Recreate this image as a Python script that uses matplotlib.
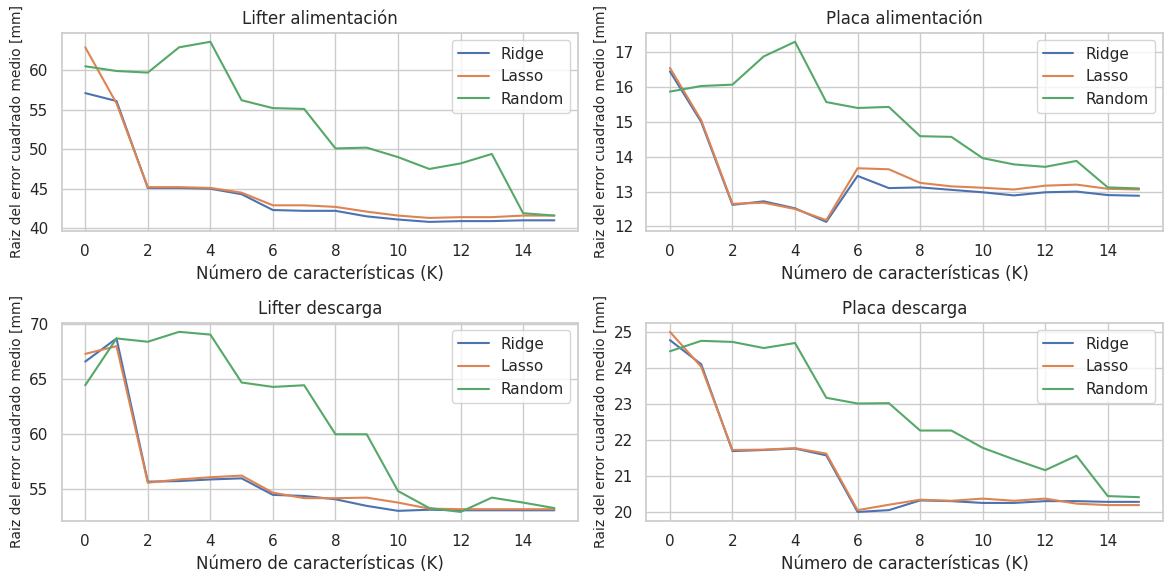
import numpy as np
import matplotlib
matplotlib.use("Agg")
import matplotlib.pyplot as plt
import seaborn as sns

sns.set_theme(style="whitegrid")

K = list(range(16))

# Lifter alimentación
lifter_alim_ridge = [57.1, 56.1, 45.1, 45.1, 45.0, 44.3, 42.3, 42.2, 42.2, 41.5, 41.1, 40.8, 40.9, 40.9, 41.0, 41.0]
lifter_alim_lasso = [62.9, 55.8, 45.2, 45.2, 45.1, 44.5, 42.9, 42.9, 42.7, 42.1, 41.6, 41.3, 41.4, 41.4, 41.6, 41.6]
lifter_alim_random = [60.5, 59.9, 59.7, 62.9, 63.6, 56.2, 55.2, 55.1, 50.1, 50.2, 49.0, 47.5, 48.2, 49.4, 41.9, 41.6]

# Placa alimentación
placa_alim_ridge = [16.45, 15.0, 12.62, 12.72, 12.52, 12.13, 13.45, 13.1, 13.12, 13.05, 12.98, 12.89, 12.98, 13.0, 12.9, 12.88]
placa_alim_lasso = [16.55, 15.05, 12.65, 12.68, 12.5, 12.18, 13.67, 13.64, 13.25, 13.15, 13.11, 13.06, 13.17, 13.2, 13.08, 13.06]
placa_alim_random = [15.87, 16.03, 16.07, 16.88, 17.3, 15.57, 15.4, 15.43, 14.59, 14.57, 13.96, 13.78, 13.71, 13.88, 13.12, 13.09]

# Lifter descarga
lifter_desc_ridge = [66.6, 68.7, 55.7, 55.75, 55.9, 56.0, 54.5, 54.4, 54.1, 53.5, 53.05, 53.15, 53.1, 53.1, 53.1, 53.1]
lifter_desc_lasso = [67.3, 68.0, 55.6, 55.9, 56.1, 56.25, 54.7, 54.2, 54.2, 54.25, 53.8, 53.25, 53.2, 53.2, 53.2, 53.2]
lifter_desc_random = [64.45, 68.7, 68.4, 69.3, 69.05, 64.7, 64.3, 64.45, 60.0, 60.0, 54.85, 53.3, 52.95, 54.25, 53.8, 53.3]

# Placa descarga
placa_desc_ridge = [24.77, 24.1, 21.69, 21.72, 21.76, 21.57, 20.0, 20.05, 20.32, 20.3, 20.25, 20.25, 20.3, 20.3, 20.28, 20.28]
placa_desc_lasso = [25.0, 24.03, 21.72, 21.73, 21.77, 21.62, 20.05, 20.2, 20.34, 20.31, 20.37, 20.31, 20.37, 20.23, 20.19, 20.19]
placa_desc_random = [24.46, 24.75, 24.72, 24.55, 24.69, 23.17, 23.01, 23.02, 22.26, 22.26, 21.78, 21.46, 21.16, 21.56, 20.44, 20.41]

titles = ["Lifter alimentación", "Placa alimentación", "Lifter descarga", "Placa descarga"]
data = [
    (lifter_alim_ridge, lifter_alim_lasso, lifter_alim_random),
    (placa_alim_ridge, placa_alim_lasso, placa_alim_random),
    (lifter_desc_ridge, lifter_desc_lasso, lifter_desc_random),
    (placa_desc_ridge, placa_desc_lasso, placa_desc_random),
]

fig, axs = plt.subplots(2, 2, figsize=(11.66, 5.75), dpi=100)
fig.subplots_adjust(left=0.053, right=0.997, top=0.943, bottom=0.094, wspace=0.133, hspace=0.464)

for ax, title, (ridge, lasso, rand) in zip(axs.flat, titles, data):
    ax.plot(K, ridge, label="Ridge")
    ax.plot(K, lasso, label="Lasso")
    ax.plot(K, rand, label="Random")
    ax.set_title(title)
    ax.set_xlabel("Número de características (K)")
    ax.set_ylabel("Raiz del error cuadrado medio [mm]", fontsize=10)
    ax.set_xticks(range(0, 16, 2))
    ax.legend(loc="upper right")

fig.savefig("out.png")
